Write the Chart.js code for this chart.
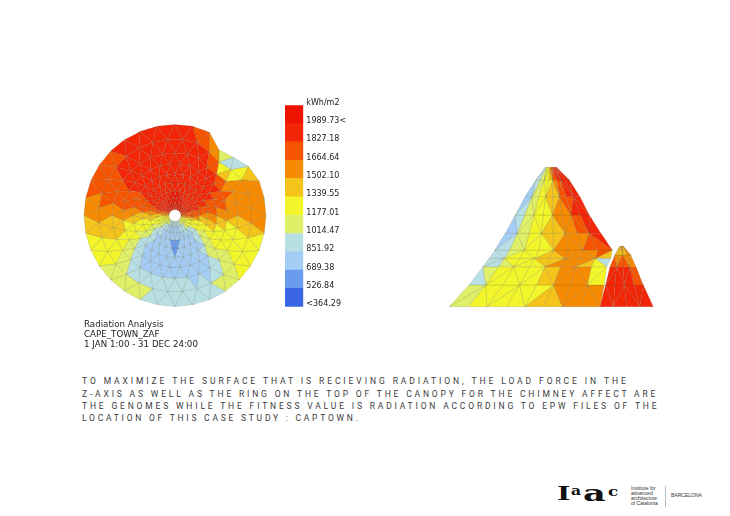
<!DOCTYPE html>
<html><head><meta charset="utf-8">
<script src="https://cdn.jsdelivr.net/npm/chart.js@4"></script>
<style>
html,body{margin:0;padding:0;background:#fff;width:730px;height:516px;overflow:hidden}
body{filter:blur(0.35px)}
.box{position:absolute}
.t{position:absolute;white-space:nowrap;color:#222}
.cap{font:8.7px "DejaVu Sans";line-height:10px;left:84px}
.para{font:400 8.5px Roboto;left:82px;line-height:12px;color:#3a3a3a}
.logo{font-family:"DejaVu Serif";font-weight:700;color:#111;line-height:1;transform-origin:0 0}
.sm{font:5px "Liberation Sans";color:#333;line-height:5px}
</style></head><body>
<div class="box" style="left:75px;top:115px;width:200px;height:205px"><canvas id="disc"></canvas></div>
<div class="box" style="left:275px;top:90px;width:90px;height:225px"><canvas id="legend"></canvas></div>
<div class="box" style="left:440px;top:160px;width:225px;height:155px"><canvas id="side"></canvas></div>

<div class="t cap" style="top:319px">Radiation Analysis</div>
<div class="t cap" style="top:329px">CAPE_TOWN_ZAF</div>
<div class="t cap" style="top:339px">1 JAN 1:00 - 31 DEC 24:00</div>
<div class="t para" style="top:375px;letter-spacing:2.92px">TO MAXIMIZE THE SURFACE THAT IS RECIEVING RADIATION, THE LOAD FORCE IN THE</div>
<div class="t para" style="top:388px;letter-spacing:2.83px">Z-AXIS AS WELL AS THE RING ON THE TOP OF THE CANOPY FOR THE CHIMNEY AFFECT ARE</div>
<div class="t para" style="top:400px;letter-spacing:2.83px">THE GENOMES WHILE THE FITNESS VALUE IS RADIATION ACCORDING TO EPW FILES OF THE</div>
<div class="t para" style="top:412px;letter-spacing:2.76px">LOCATION OF THIS CASE STUDY : CAPTOWN.</div>
<div class="t logo" style="left:557px;top:484px;font-size:19px;transform:scaleX(1.5)">I</div>
<div class="t logo" style="left:571px;top:485px;font-size:12px;transform:scaleX(1.3)">a</div>
<div class="t logo" style="left:583px;top:482px;font-size:22px;transform:scaleX(1.6)">a</div>
<div class="t logo" style="left:608px;top:485px;font-size:13px;transform:scaleX(1.3)">c</div>
<div class="t sm" style="left:631px;top:486px;">Institute for<br>advanced<br>architecture<br>of Catalonia</div>
<div class="box" style="left:665px;top:486px;width:1px;height:21px;background:#bbb"></div>
<div class="t sm" style="left:671px;top:493px">BARCELONA</div>

<script>
// Legend
const legendLabels = ["<364.29","526.84","689.38","851.92","1014.47","1177.01","1339.55","1502.10","1664.64","1827.18","1989.73<","kWh/m2"];
const bandLowerBounds = [1989.73,1827.18,1664.64,1502.10,1339.55,1177.01,1014.47,851.92,689.38,526.84];
const bandColors = ["#ee1200","#f42608","#f65400","#f68a00","#f4c41a","#f2f52a","#dff068","#b8e0e4","#a3cdf5","#6a9cee","#3a66e6"];

// Plan view: radiation (kWh/m2) at mesh vertices, inner ring to rim, 32 bearings clockwise from north
const planRadii = [0.066,0.12,0.19,0.27,0.36,0.46,0.57,0.69,0.84,1];
const planRim = [1,1,0.99,0.87,0.905,0.97,1,1,1,1,1,1,1,1,1,1,1,1,1,1,1,1,1,1,1,1,1,1,1,1,1,1];
const ring0 = [2050,2050,2050,2050,2050,2050,1900,1750,1580,1260,1260,1100,1100,930,930,930,930,930,930,1100,1100,1260,1260,1420,1580,1750,1900,2050,2050,2050,2050,2050];
const ring1 = [2050,2050,2050,2050,1900,1900,1900,1750,1750,1260,1260,1260,1100,930,930,770,930,770,770,930,1100,1100,1260,1260,1420,1750,1900,1900,2050,2050,2050,2050];
const ring2 = [2050,2050,1900,1900,1900,1900,1900,1750,1750,1260,1260,1100,930,930,770,770,770,770,770,930,930,1100,1260,1260,1580,1750,1900,1900,1900,1900,2050,2050];
const ring3 = [2050,1900,1900,1900,1900,1900,1900,1750,1580,1260,1260,1100,770,770,770,770,610,770,770,770,930,1100,1260,1260,1580,1750,1900,1900,1900,1900,1900,1900];
const ring4 = [1900,1900,1900,1900,1900,1900,1750,1750,1580,1420,1260,1100,770,770,770,610,610,770,770,770,930,1100,1260,1260,1580,1750,1750,1900,1900,1900,1900,1900];
const ring5 = [1900,1900,1900,1900,1900,1900,1750,1750,1580,1420,1260,1100,930,770,770,770,770,770,770,770,930,1100,1260,1260,1580,1750,1750,1900,1900,1900,1900,1900];
const ring6 = [1900,1900,1900,1900,1900,1750,1750,1580,1420,1260,1260,1260,930,770,770,770,770,770,770,770,930,1260,1260,1420,1580,1750,1750,1900,1900,1900,1900,1900];
const ring7 = [1900,1900,1900,1900,1750,1580,1580,1420,1580,1260,1260,1260,930,770,770,770,930,770,930,770,1100,1260,1420,1420,1580,1750,1750,1900,1900,1900,1900,1900];
const ring8 = [1900,1900,1750,1420,770,1420,1580,1580,1580,1260,1260,1260,1100,930,930,930,930,930,1100,1100,1100,1260,1260,1420,1580,1750,1750,1750,1900,1900,1900,1900];
const ring9 = [1900,1900,1580,1580,450,1420,1580,1580,1580,1420,1260,1260,1100,1100,930,930,930,930,1100,1100,1100,1260,1260,1420,1580,1580,1750,1750,1750,1900,1900,1900];
const planRings = [ring0,ring1,ring2,ring3,ring4,ring5,ring6,ring7,ring8,ring9];

// Elevation: canopy height levels, span at each level, radiation across the span
const canopyHeights = [418,380,330,275,220,170,145,120,65,0];
const canopyLeft  = [287,260,227,198,168,137,119,101,59,0];
const canopyRight = [322,360,392,420,455,489,484,472,465,452];
const canopyRows = [
 [770,1100,1260,1420,1900,1900,1900,1900,1900],
 [770,930,1260,1260,1420,1750,1900,1900,1900],
 [770,930,1100,1260,1420,1580,1750,1900,1900],
 [770,930,1260,1260,1420,1580,1750,1900,1900],
 [770,930,1260,1260,1420,1580,1580,1750,1900],
 [770,930,1260,1260,1420,1580,1580,1750,1900],
 [770,1100,1260,1260,1420,1580,1580,1420,770],
 [770,1100,1260,1260,1420,1580,1580,1420,770],
 [930,1260,1260,1260,1260,1420,1580,1580,1420],
 [930,1100,1260,1260,1260,1420,1580,1580,1580]
];
const chimneyHeights = [182,155,120,65,0];
const chimneyLeft  = [512,497,482,469,452];
const chimneyRight = [522,544,560,582,612];
const chimneyRows = [
 [1580,1580,1580,1580,1580],
 [1420,1420,1420,1420,1580],
 [1750,1900,1900,1750,1580],
 [1900,1900,1900,1900,1750],
 [1900,1900,1900,1900,1900]
];

function bandColor(v){
  for(let i=0;i<bandLowerBounds.length;i++) if(v>=bandLowerBounds[i]) return bandColors[i];
  return bandColors[bandColors.length-1];
}
function facet(pts,vals,lineColor){
  const m=vals.reduce((a,b)=>a+b,0)/vals.length;
  return {data:[...pts,pts[0]],showLine:true,fill:'shape',backgroundColor:bandColor(m),
    borderColor:lineColor,borderWidth:0.5,pointRadius:0,tension:0.00001};
}
const edgeLine='rgba(95,95,60,0.34)';
const common={responsive:true,maintainAspectRatio:false,animation:false,parsing:false,
  layout:{padding:0},events:[],plugins:{legend:{display:false},tooltip:{enabled:false},title:{display:false}}};
function hiddenScales(x0,x1,y0,y1){return {x:{type:'linear',display:false,min:x0,max:x1},y:{type:'linear',display:false,min:y0,max:y1}};}

// Plan mesh
const n=planRings[0].length;
function planPt(j,k){
  k=(k+n)%n;
  const off=j%2===0?0.5:0;
  const a=(k+off)*2*Math.PI/n;
  const e=off?(planRim[k]+planRim[(k+1)%n])/2:planRim[k];
  const f=planRadii[j], r=f*(1-(1-e)*f);
  return {x:r*Math.sin(a),y:r*Math.cos(a)};
}
const planSets=[];
for(let j=0;j<planRings.length-1;j++){
  for(let k=0;k<n;k++){
    const A=planRings[j],B=planRings[j+1],k1=(k+1)%n;
    if(j%2===0){
      planSets.push(facet([planPt(j+1,k),planPt(j+1,k1),planPt(j,k)],[B[k],B[k1],A[k]],edgeLine));
      planSets.push(facet([planPt(j,k),planPt(j,k1),planPt(j+1,k1)],[A[k],A[k1],B[k1]],edgeLine));
    }else{
      planSets.push(facet([planPt(j,k),planPt(j,k1),planPt(j+1,k)],[A[k],A[k1],B[k]],edgeLine));
      planSets.push(facet([planPt(j+1,k),planPt(j+1,k1),planPt(j,k1)],[B[k],B[k1],A[k1]],edgeLine));
    }
  }
}
new Chart(document.getElementById('disc'),{type:'scatter',data:{datasets:planSets},
  options:{...common,scales:hiddenScales(-100/91,100/91,-104.5/91,100.5/91)}});

// Elevation mesh
function meshSets(H,L,R,V,out){
  const cols=V[0].length-1;
  const P=(i,c)=>{const u=c/cols;return {x:L[i]+(R[i]-L[i])*u,y:H[i]};};
  for(let i=0;i<H.length-1;i++){
    for(let c=0;c<cols;c++){
      if((i+c)%2===0){
        out.push(facet([P(i,c),P(i,c+1),P(i+1,c)],[V[i][c],V[i][c+1],V[i+1][c]],edgeLine));
        out.push(facet([P(i,c+1),P(i+1,c+1),P(i+1,c)],[V[i][c+1],V[i+1][c+1],V[i+1][c]],edgeLine));
      }else{
        out.push(facet([P(i,c),P(i,c+1),P(i+1,c+1)],[V[i][c],V[i][c+1],V[i+1][c+1]],edgeLine));
        out.push(facet([P(i,c),P(i+1,c+1),P(i+1,c)],[V[i][c],V[i+1][c+1],V[i+1][c]],edgeLine));
      }
    }
  }
  return out;
}
const sideSets=[];
meshSets(canopyHeights,canopyLeft,canopyRight,canopyRows,sideSets);
meshSets(chimneyHeights,chimneyLeft,chimneyRight,chimneyRows,sideSets);
new Chart(document.getElementById('side'),{type:'scatter',data:{datasets:sideSets},
  options:{...common,scales:hiddenScales(-28,647,-25,440)}});

// Legend column
const bandOrder=bandColors.slice().reverse();
new Chart(document.getElementById('legend'),{type:'bar',
  data:{labels:['band'],datasets:bandOrder.map(c=>({data:[1],backgroundColor:c,borderWidth:0,stack:'s',barPercentage:1,categoryPercentage:1}))},
  options:{responsive:true,maintainAspectRatio:false,animation:false,events:[],
    layout:{padding:{top:15.3,bottom:8.3,left:10,right:0}},
    plugins:{legend:{display:false},tooltip:{enabled:false}},
    scales:{
      x:{display:false,stacked:true},
      y:{position:'right',stacked:true,min:0,max:11,
        afterFit(s){s.width=61.7;},
        grid:{display:false,drawTicks:false},border:{display:false},
        afterBuildTicks(s){s.ticks=legendLabels.map((_,i)=>({value:i}));},
        ticks:{autoSkip:false,stepSize:1,padding:3,labelOffset:-2.5,color:'#222',font:{family:'DejaVu Sans',size:8},
          callback:v=>legendLabels[v],align:'center'}}
    }}});
</script>
</body></html>
